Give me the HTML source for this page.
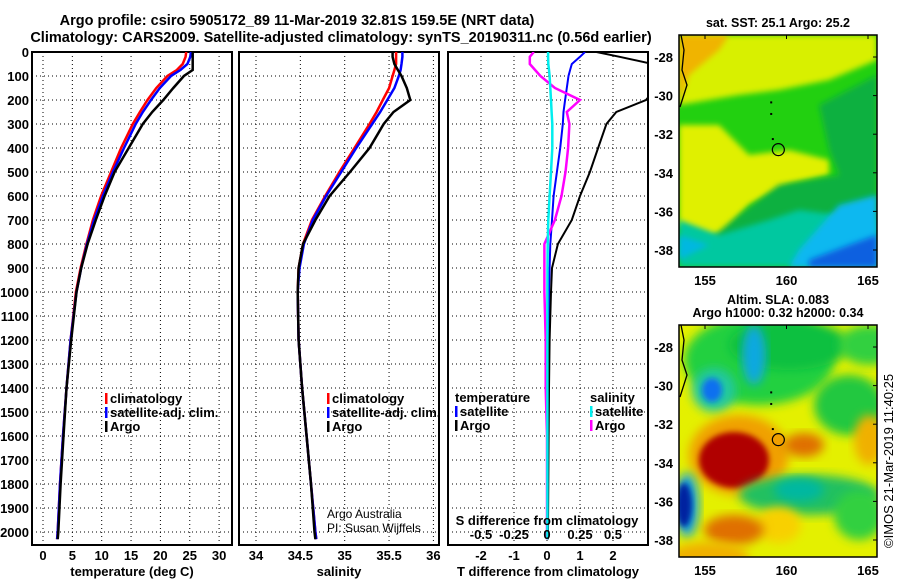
<!DOCTYPE html>
<html><head><meta charset="utf-8"><style>
body{margin:0;background:#fff}
svg{display:block;font-family:"Liberation Sans",sans-serif;font-weight:bold}
</style></head><body>
<svg id="c" width="900" height="580" viewBox="0 0 900 580">
<defs>
<filter id="bl" x="-20%" y="-20%" width="140%" height="140%"><feGaussianBlur stdDeviation="5"/></filter>
<filter id="bl2" x="-20%" y="-20%" width="140%" height="140%"><feGaussianBlur stdDeviation="3"/></filter>
<clipPath id="cp1"><rect x="32" y="52" width="200" height="493"/></clipPath>
<clipPath id="cp2"><rect x="239" y="52" width="200" height="493"/></clipPath>
<clipPath id="cp3"><rect x="448" y="52" width="200" height="493"/></clipPath>
<clipPath id="cm1"><rect x="679" y="35" width="198" height="232"/></clipPath>
<clipPath id="cm2"><rect x="679" y="325" width="198" height="232"/></clipPath>
</defs>
<text x="297" y="25" font-size="14.5" text-anchor="middle">Argo profile: csiro 5905172_89 11-Mar-2019 32.81S 159.5E (NRT data)</text>
<text x="341" y="42" font-size="14.5" text-anchor="middle">Climatology: CARS2009. Satellite-adjusted climatology: synTS_20190311.nc (0.56d earlier)</text>
<g id="maps"></g>
<g id="plots"></g>
<text transform="translate(893,548) rotate(-90)" font-size="13" font-weight="normal">©IMOS 21-Mar-2019 11:40:25</text>
</svg>
<script>
const depths=[0,20,50,75,100,150,200,250,300,400,500,600,700,800,900,1000,1200,1400,1600,1800,2000,2030];
const tClim=[24.4,24.3,23.8,22.8,21.2,19.3,17.8,16.5,15.3,13.3,11.6,9.9,8.5,7.4,6.4,5.6,4.7,4.0,3.4,2.9,2.5,2.4];
const tSat=[25.2,25.1,24.6,23.4,21.8,19.9,18.4,17.0,15.8,13.8,11.9,10.2,8.7,7.5,6.5,5.7,4.7,4.0,3.4,2.9,2.5,2.4];
const tArgo=[25.5,25.5,25.5,25.5,24.0,22.2,20.5,18.6,17.0,14.6,12.2,10.5,9.0,7.6,6.5,5.7,4.8,4.0,3.5,3.0,2.6,2.5];
const sClim=[35.58,35.58,35.58,35.56,35.54,35.50,35.43,35.36,35.28,35.11,34.94,34.78,34.63,34.53,34.48,34.47,34.48,34.52,34.57,34.62,34.67,34.68];
const sSat=[35.65,35.65,35.64,35.63,35.61,35.56,35.48,35.40,35.31,35.13,34.96,34.79,34.64,34.54,34.49,34.47,34.48,34.52,34.57,34.62,34.67,34.68];
const sArgo=[35.54,35.54,35.56,35.60,35.64,35.70,35.74,35.55,35.44,35.28,35.06,34.83,34.67,34.53,34.48,34.47,34.48,34.52,34.57,34.62,34.66,34.67];
const dTsat=[1.15,1.0,0.75,0.7,0.65,0.6,0.55,0.5,0.48,0.4,0.3,0.2,0.15,0.1,0.08,0.06,0.05,0.04,0.03,0.03,0.02,0.02];
const dTargo=[1.5,2.2,3.2,3.5,3.5,3.3,3.0,2.1,1.8,1.55,1.3,1.0,0.75,0.33,0.15,0.12,0.08,0.06,0.05,0.04,0.03,0.03];
const dSsat=[0.008,0.008,0.01,0.015,0.02,0.025,0.03,0.035,0.04,0.04,0.03,0.02,0.01,0.005,0.004,0.003,0.003,0.003,0.003,0.003,0.003,0.003];
const dSargo=[-0.1,-0.13,-0.13,-0.09,-0.05,0.06,0.25,0.15,0.17,0.16,0.14,0.11,0.06,-0.02,-0.02,-0.02,-0.01,-0.01,0,0,0,0];
const depthTicks=[0,100,200,300,400,500,600,700,800,900,1000,1100,1200,1300,1400,1500,1600,1700,1800,1900,2000];
const tTicks=[0,5,10,15,20,25,30];
const sTicks=[34,34.5,35,35.5,36];
const sTickLabels=["34","34.5","35","35.5","36"];
const dTTicks=[-2,-1,0,1,2];
const dSTicks=[-0.5,-0.25,0,0.25,0.5];
const dSTickLabels=["-0.5","-0.25","0","0.25","0.5"];
const latTicks=[-28,-30,-32,-34,-36,-38];
const lonTicks=[155,160,165];

const NS='http://www.w3.org/2000/svg';
const P=document.getElementById('plots');
function mk(tag,at,par){const e=document.createElementNS(NS,tag);for(const k in at)e.setAttribute(k,at[k]);(par||P).appendChild(e);return e;}
const yD=d=>52+d*0.24;
const xT=t=>43+t*5.87;
const xS=s=>256+(s-34)*88.7;
const xDT=t=>547+t*33;
const xDS=s=>547+s*132;

function panel(x0,name,ticks,labels,xf,axisTitle,showDepth){
  const g=mk('g',{});
  
  
  for(const d of depthTicks){if(d===0)continue;
    const l=mk('line',{x1:x0,x2:x0+200,y1:yD(d),y2:yD(d),stroke:'#000','stroke-width':1,'stroke-dasharray':'1,3'},g);
    
    }
  ticks.forEach((t,i)=>{const x=xf(t);
    const l=mk('line',{x1:x,x2:x,y1:52,y2:545,stroke:'#000','stroke-width':1,'stroke-dasharray':'1,3'},g);
    
    
    const tx=mk('text',{x:x,y:560,'font-size':13,'text-anchor':'middle'},g);tx.textContent=labels[i];
    
    });
  const r=mk('rect',{x:x0,y:52,width:200,height:493,fill:'none',stroke:'#000','stroke-width':2},g);
  
  
  const at=mk('text',{x:x0+100,y:576,'font-size':13,'text-anchor':'middle'},g);at.textContent=axisTitle;
  
  
  if(showDepth){for(const d of depthTicks){const tx=mk('text',{x:29,y:yD(d)+5,'font-size':13,'text-anchor':'end'},g);tx.textContent=d;
    
    }}
  return g;
}
function series(vals,xf,color,clip,name,w){
  const pts=vals.map((v,i)=>xf(v).toFixed(1)+','+yD(depths[i]).toFixed(1)).join(' ');
  const pl=mk('polyline',{points:pts,fill:'none',stroke:color,'stroke-width':w||2.5,'clip-path':'url(#'+clip+')'});
  
  
}
function legend(x,y,items,name){
  const g=mk('g',{});
  
  
  items.forEach((it,i)=>{const yy=y+i*14;
    if(it[1])mk('rect',{x:x,y:yy-10,width:2.5,height:11,fill:it[1]},g);
    const t=mk('text',{x:x+(it[1]?5:0),y:yy,'font-size':13},g);t.textContent=it[0];});
}
panel(32,'temperature-panel',tTicks,tTicks.map(String),xT,'temperature (deg C)',true);
series(tClim,xT,'#f00','cp1','temperature-climatology-line');
series(tSat,xT,'#00f','cp1','temperature-satellite-line');
series(tArgo,xT,'#000','cp1','temperature-argo-line');
legend(105,403,[['climatology','#f00'],['satellite-adj. clim.','#00f'],['Argo','#000']],'temperature-legend');

panel(239,'salinity-panel',sTicks,sTickLabels,xS,'salinity',false);
series(sClim,xS,'#f00','cp2','salinity-climatology-line');
series(sSat,xS,'#00f','cp2','salinity-satellite-line');
series(sArgo,xS,'#000','cp2','salinity-argo-line');
legend(327,403,[['climatology','#f00'],['satellite-adj. clim.','#00f'],['Argo','#000']],'salinity-legend');
const cr=mk('text',{x:327,y:518,'font-size':12,'font-weight':'normal'});cr.textContent='Argo Australia';


const cr2=mk('text',{x:327,y:532,'font-size':12,'font-weight':'normal'});cr2.textContent='PI: Susan Wijffels';



panel(448,'difference-panel',dTTicks,dTTicks.map(String),xDT,'T difference from climatology',false);
series(dTsat,xDT,'#00f','cp3','t-diff-satellite-line',2);
series(dTargo,xDT,'#000','cp3','t-diff-argo-line',2);
series(dSargo,xDS,'#f0f','cp3','s-diff-argo-line',2.5);
series(dSsat,xDS,'#0ee','cp3','s-diff-satellite-line',2.5);
legend(455,402,[['temperature',null],['satellite','#00f'],['Argo','#000']],'t-diff-legend');
legend(590,402,[['salinity',null],['satellite','#0ee'],['Argo','#f0f']],'s-diff-legend');
const st=mk('text',{x:547,y:525,'font-size':13,'text-anchor':'middle'});st.textContent='S difference from climatology';


dSTicks.forEach((s,i)=>{const t=mk('text',{x:xDS(s),y:539,'font-size':13,'text-anchor':'middle'});t.textContent=dSTickLabels[i];
  
  });

// maps
const M=document.getElementById('maps');
function map(y0,name,title1,title2,draw,circFill){
  const g=mk('g',{},M);
  
  
  const lat0=y0+22;
  const gy=lat=>lat0+(-28-lat)*19.3;
  const gx=lon=>705+(lon-155)*16.3;
  const inner=mk('g',{'clip-path':'url(#'+(y0<100?'cm1':'cm2')+')'},g);
  draw(inner,679,y0);
  mk('path',{d:`M${681} ${y0} L684 ${y0+15} L682 ${y0+35} L687 ${y0+50} L680 ${y0+72}`,fill:'none',stroke:'#000','stroke-width':1.3},inner);
  mk('circle',{cx:gx(159.5),cy:gy(-32.8),r:6,fill:circFill,stroke:'#000','stroke-width':1.2},g);
  for(const p of [[159,-30.3],[159,-30.9],[159.1,-32.2]])mk('rect',{x:gx(p[0]),y:gy(p[1]),width:2,height:2,fill:'#000'},g);
  mk('rect',{x:679,y:y0,width:198,height:232,fill:'none',stroke:'#000','stroke-width':1.5},g);
  latTicks.forEach(l=>{const t=mk('text',{x:673,y:gy(l)+5,'font-size':13,'text-anchor':'end'},g);t.textContent=l;
    mk('line',{x1:877,x2:873,y1:gy(l),y2:gy(l),stroke:'#000'},g);});
  lonTicks.forEach(l=>{const t=mk('text',{x:gx(l),y:y0+250,'font-size':13,'text-anchor':'middle'},g);t.textContent=l;
    mk('line',{x1:gx(l),x2:gx(l),y1:y0,y2:y0+4,stroke:'#000'},g);});
  title1.forEach((s,i)=>{const t=mk('text',{x:778,y:y0-(title1.length-1-i)*13-8,'font-size':12.5,'text-anchor':'middle'},g);t.textContent=s;});
}
function poly(par,x0,y0,pts,fill,f){return mk('polygon',{points:pts.map(p=>(x0+p[0])+','+(y0+p[1])).join(' '),fill:fill,filter:f?'url(#'+f+')':''},par);}
function ell(par,x0,y0,cx,cy,rx,ry,fill,f){return mk('ellipse',{cx:x0+cx,cy:y0+cy,rx:rx,ry:ry,fill:fill,filter:'url(#'+(f||'bl')+')'},par);}
map(35,'sst-map',['sat. SST: 25.1 Argo: 25.2'],null,(g,x,y)=>{
  mk('rect',{x:x,y:y,width:198,height:232,fill:'#22d010'},g);
  poly(g,x,y,[[0,0],[198,0],[198,25],[150,45],[100,55],[60,60],[0,70]],'#d8f000','bl2');
  poly(g,x,y,[[0,0],[50,0],[40,15],[10,40],[0,70]],'#f0b400','bl2');
  poly(g,x,y,[[0,90],[40,90],[70,120],[110,115],[150,125],[150,140],[110,150],[70,170],[40,205],[0,190]],'#e0f000','bl2');
  poly(g,x,y,[[198,40],[140,70],[150,115],[160,140],[100,150],[60,180],[30,205],[198,205]],'#10b040','bl2');
  poly(g,x,y,[[0,185],[40,200],[90,185],[120,175],[198,185],[198,232],[0,232]],'#00c8a0','bl2');
  poly(g,x,y,[[0,200],[30,210],[0,225]],'#00b8e0','bl2');
  poly(g,x,y,[[120,215],[160,170],[198,160],[198,232],[110,232]],'#10b8f0','bl2');
  poly(g,x,y,[[130,225],[170,210],[198,200],[198,232],[130,232]],'#1060e0','bl2');
},'none');
map(325,'sla-map',['Altim. SLA: 0.083','Argo h1000: 0.32 h2000: 0.34'],null,(g,x,y)=>{
  mk('rect',{x:x,y:y,width:198,height:232,fill:'#e4f000'},g);
  ell(g,x,y,80,35,75,45,'#20d040');ell(g,x,y,110,20,60,25,'#10c040');
  ell(g,x,y,75,30,12,30,'#10a8e0');
  ell(g,x,y,35,65,22,22,'#20c8a0');ell(g,x,y,33,65,10,12,'#1070f0','bl2');
  ell(g,x,y,170,80,35,30,'#20c840');ell(g,x,y,190,20,30,20,'#30d040');
  ell(g,x,y,60,130,50,40,'#f0a000');ell(g,x,y,55,135,35,28,'#b00000','bl2');
  ell(g,x,y,125,120,20,12,'#e07000');
  ell(g,x,y,8,180,12,32,'#10a0e0');ell(g,x,y,5,180,8,22,'#0020a0','bl2');
  ell(g,x,y,130,170,70,20,'#20c060');ell(g,x,y,120,165,25,12,'#00b8a0');
  ell(g,x,y,100,200,22,18,'#f8d000');ell(g,x,y,55,205,30,15,'#e07000');
  ell(g,x,y,190,115,15,25,'#f0b000');ell(g,x,y,180,190,25,25,'#30d040');
  ell(g,x,y,30,232,40,15,'#f0b000');
},'#f0a000');
</script>
</body></html>
